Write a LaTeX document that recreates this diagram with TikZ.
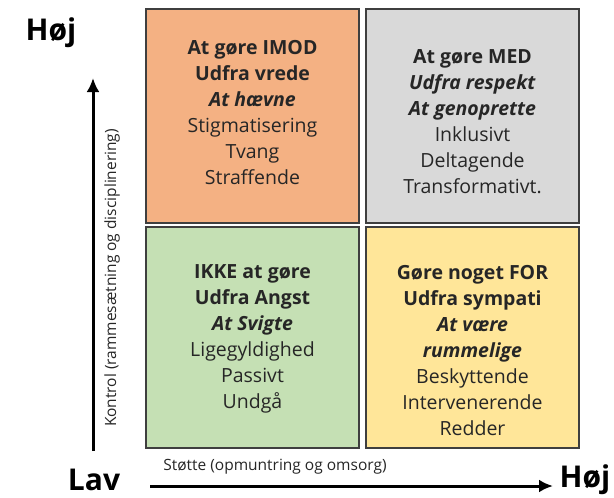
\documentclass[tikz,border=0pt]{standalone}
\usepackage{fontspec}
\setmainfont{Open Sans}
\usetikzlibrary{arrows.meta}
\definecolor{imodfill}{HTML}{F4B183}
\definecolor{medfill}{HTML}{D9D9D9}
\definecolor{ikkefill}{HTML}{C5E0B4}
\definecolor{forfill}{HTML}{FFE699}
\definecolor{boxline}{HTML}{3F3F3F}
\tikzset{
	quad/.style={draw=boxline,line width=1.5pt,minimum width=213pt,
		minimum height=214pt,inner sep=0pt},
	quadtxt/.style={align=center,inner sep=0pt,text=black!85,
		font=\fontsize{19.5}{26}\selectfont},
	axislbl/.style={font=\fontsize{15.5}{18}\selectfont,inner sep=0pt,text=black!85},
	endlbl/.style={font=\bfseries\fontsize{30}{34}\selectfont,inner sep=0pt}
}

\begin{document}
\begin{tikzpicture}[x=1pt,y=-1pt,>={Latex[length=14pt,width=13pt]}]
\useasboundingbox (0,0) rectangle (614,498);

% kvadranter
\node [quad,fill=imodfill] (imod) at (252.5,116) {};
\node [quad,fill=medfill] (med) at (472.5,116) {};
\node [quad,fill=ikkefill,minimum height=221pt] (ikke) at (252.5,337.5) {};
\node [quad,fill=forfill,minimum height=221pt] (for) at (472.5,337.5) {};

\node [quadtxt] (imodtxt) at ([yshift=3pt]imod.center)
	{\textbf{At gøre IMOD}\\\textbf{Udfra vrede}\\\textbf{\textit{At hævne}}\\
	 Stigmatisering\\Tvang\\Straffende};
\node [quadtxt] (medtxt) at ([yshift=-6pt]med.center)
	{\textbf{At gøre MED}\\\textbf{\textit{Udfra respekt}}\\\textbf{\textit{At genoprette}}\\
	 Inklusivt\\Deltagende\\Transformativt.};
\node [quadtxt] (ikketxt) at ([yshift=-1pt]ikke.center)
	{\textbf{IKKE at gøre}\\\textbf{Udfra Angst}\\\textbf{\textit{At Svigte}}\\
	 Ligegyldighed\\Passivt\\Undgå};
\node [quadtxt] (fortxt) at ([yshift=-13pt]for.center)
	{\textbf{Gøre noget FOR}\\\textbf{Udfra sympati}\\\textbf{\textit{At være}}\\
	 \textbf{\textit{rummelige}}\\Beskyttende\\Intervenerende\\Redder};

% akser
\coordinate (ybund) at (93,451);
\coordinate (ytop) at (93,78);
\coordinate (xstart) at (150,486);
\coordinate (xslut) at (553,486);
\draw [->,line width=3pt] (ybund) -- (ytop);
\draw [->,line width=3pt] (xstart) -- (xslut);

\node [axislbl,rotate=90] (kontrol) at (112,278) {Kontrol (rammesætning og disciplinering)};
\node [axislbl] (stotte) at (275,467) {Støtte (opmuntring og omsorg)};

\node [endlbl] (hojy) at (51,33) {Høj};
\node [endlbl] (lav) at (94,480) {Lav};
\node [endlbl] (hojx) at (585,480) {Høj};

\end{tikzpicture}
\end{document}
